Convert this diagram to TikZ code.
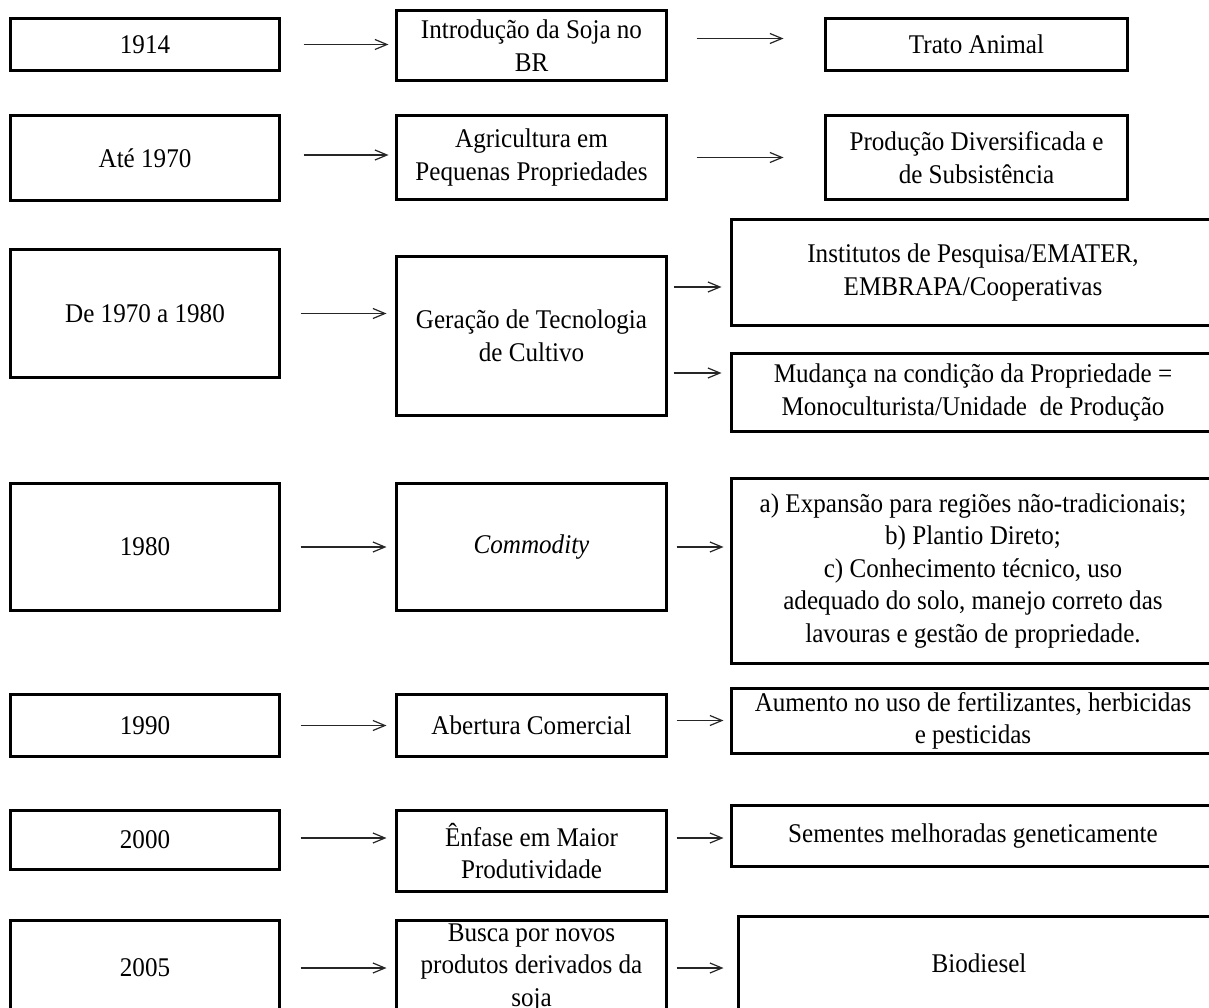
\documentclass[tikz,border=0pt]{standalone}
\usepackage{fontspec}
\setmainfont{Liberation Serif}[FakeStretch=0.93]
\usetikzlibrary{arrows.meta}
% box from its outer edges: name, left, top, right, bottom, text
\newcommand\mkbox[6]{%
  \node[box,minimum width={#4-#2-3},minimum height={#5-#3-3}] (#1)
    at ({(#2+#4)/2},{(#3+#5)/2}) {#6};}
\begin{document}
\begin{tikzpicture}[x=1pt,y=-1pt,
  box/.style={draw=black,line width=3pt,rectangle,inner sep=0pt,outer sep=0pt,
    align=center,font=\fontsize{27}{32.5}\selectfont,text=black},
  arr/.style={draw=black!85,line width=1.2pt,
    -{Straight Barb[length=12pt,width=10pt,line width=1.2pt]}}]
\useasboundingbox (0,0) rectangle (1209,1008);
\clip (0,0) rectangle (1209,1008);

% period column
\mkbox{p1}{9}{17}{281}{72}{1914}
\mkbox{p2}{9}{114}{281}{202}{Até 1970}
\mkbox{p3}{9}{248}{281}{379}{De 1970 a 1980}
\mkbox{p4}{9}{482}{281}{612}{1980}
\mkbox{p5}{9}{693}{281}{758}{1990}
\mkbox{p6}{9}{809}{281}{871}{2000}
\mkbox{p7}{9}{919}{281}{1017}{2005}

% event column
\mkbox{e1}{395}{9}{668}{82}{Introdução da Soja no\\BR}
\mkbox{e2}{395}{114}{668}{201}{Agricultura em\\Pequenas Propriedades}
\mkbox{e3}{395}{255}{668}{417}{Geração de Tecnologia\\de Cultivo}
\mkbox{e4}{395}{482}{668}{612}{\textit{Commodity}}
\mkbox{e5}{395}{693}{668}{758}{Abertura Comercial}
\mkbox{e6}{395}{809}{668}{893}{Ênfase em Maior\\Produtividade}
\mkbox{e7}{395}{919}{668}{1017}{Busca por novos\\produtos derivados da\\soja}

% consequence column
\mkbox{c1}{824}{17}{1129}{72}{Trato Animal}
\mkbox{c2}{824}{114}{1129}{201}{Produção Diversificada e\\de Subsistência}
\mkbox{c3a}{730}{218}{1216}{327}{Institutos de Pesquisa/EMATER,\\EMBRAPA/Cooperativas}
\mkbox{c3b}{730}{352}{1216}{433}{Mudança na condição da Propriedade =\\Monoculturista/Unidade\ \ de Produção}
\mkbox{c4}{730}{477}{1216}{665}{a) Expansão para regiões não-tradicionais;\\b) Plantio Direto;\\c) Conhecimento técnico, uso\\adequado do solo, manejo correto das\\lavouras e gestão de propriedade.}
\mkbox{c5}{730}{687}{1216}{755}{Aumento no uso de fertilizantes, herbicidas\\e pesticidas}
\mkbox{c6}{730}{804}{1216}{868}{Sementes melhoradas geneticamente}
\mkbox{c7}{737}{915}{1221}{1011}{Biodiesel}

% period -> event
\draw[arr] ([xshift=24pt]p1.east) -- ([xshift=-8pt]p1.east -| e1.west);
\draw[arr] ([xshift=24pt,yshift=3pt]p2.east) -- ([xshift=-8pt,yshift=3pt]p2.east -| e2.west);
\draw[arr] ([xshift=21pt]p3.east) -- ([xshift=-10pt]p3.east -| e3.west);
\draw[arr] ([xshift=21pt]p4.east) -- ([xshift=-10pt]p4.east -| e4.west);
\draw[arr] ([xshift=21pt]p5.east) -- ([xshift=-10pt]p5.east -| e5.west);
\draw[arr] ([xshift=21pt,yshift=2pt]p6.east) -- ([xshift=-10pt,yshift=2pt]p6.east -| e6.west);
\draw[arr] ([xshift=21pt]p7.east) -- ([xshift=-10pt]p7.east -| e7.west);

% event -> consequence
\draw[arr] ([xshift=30pt,yshift=7pt]e1.east) -- ([xshift=-42pt,yshift=7pt]e1.east -| c1.west);
\draw[arr] ([xshift=30pt]e2.east) -- ([xshift=-42pt]e2.east -| c2.west);
\draw[arr] ([xshift=7pt,yshift=49pt]e3.east) -- ([xshift=-10pt,yshift=49pt]e3.east -| c3a.west);
\draw[arr] ([xshift=7pt,yshift=-37pt]e3.east) -- ([xshift=-10pt,yshift=-37pt]e3.east -| c3b.west);
\draw[arr] ([xshift=10pt]e4.east) -- ([xshift=-8pt]e4.east -| c4.west);
\draw[arr] ([xshift=10pt,yshift=5pt]e5.east) -- ([xshift=-8pt,yshift=5pt]e5.east -| c5.west);
\draw[arr] ([xshift=10pt,yshift=13pt]e6.east) -- ([xshift=-8pt,yshift=13pt]e6.east -| c6.west);
\draw[arr] ([xshift=10pt]e7.east) -- ([xshift=-15pt]e7.east -| c7.west);
\end{tikzpicture}
\end{document}
